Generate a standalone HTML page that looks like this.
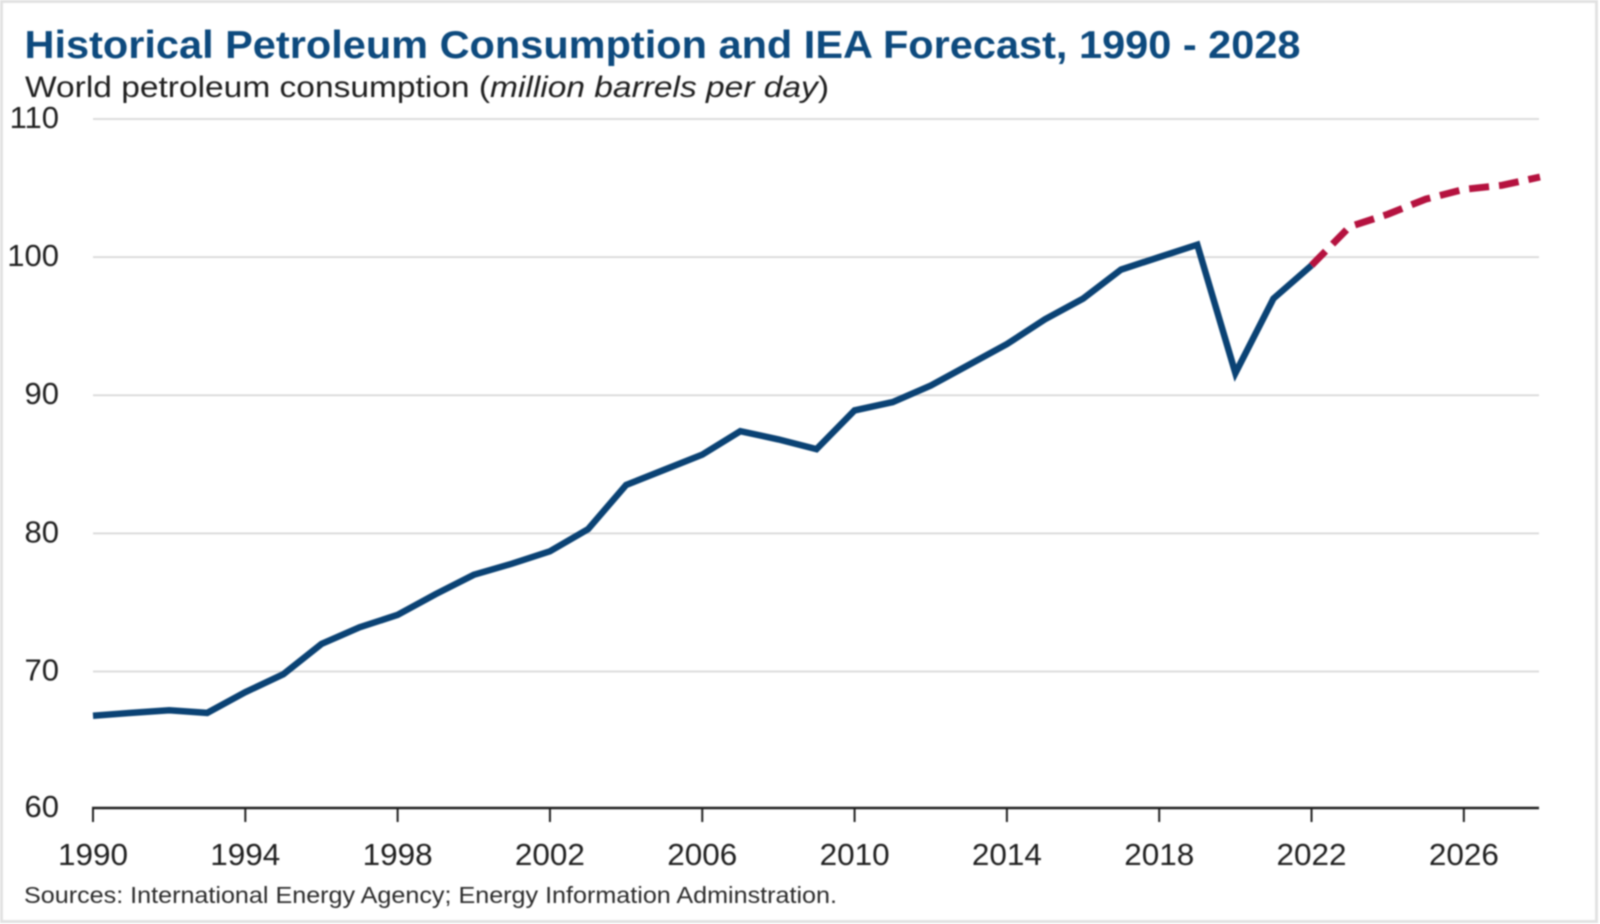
<!DOCTYPE html>
<html lang="en">
<head>
<meta charset="utf-8">
<title>Historical Petroleum Consumption and IEA Forecast, 1990 - 2028</title>
<style>
  html, body { margin: 0; padding: 0; width: 1600px; height: 924px; background: #fff; overflow: hidden; }
  #chart { display: block; filter: blur(0.9px); }
  text { font-family: "Liberation Sans", sans-serif; }
</style>
</head>
<body>
<svg id="chart" xmlns="http://www.w3.org/2000/svg" width="1600" height="924" viewBox="0 0 1600 924">
  <rect x="1.5" y="1.5" width="1595" height="920" fill="#fff" stroke="#e2e2e2" stroke-width="3"/>
  <text x="24.5" y="58" font-size="39" font-weight="bold" fill="#0d4a7e" textLength="1276" lengthAdjust="spacingAndGlyphs">Historical Petroleum Consumption and IEA Forecast, 1990 - 2028</text>
  <text x="25" y="97" font-size="30" fill="#1f1f1f" textLength="804" lengthAdjust="spacingAndGlyphs">World petroleum consumption (<tspan font-style="italic">million barrels per day</tspan>)</text>
  <g id="grid"></g>
  <g id="y-labels"></g>
  <g id="x-axis"></g>
  <g id="series"></g>
  <text x="24" y="903" font-size="23" fill="#2b2b2b" textLength="813" lengthAdjust="spacingAndGlyphs">Sources: International Energy Agency; Energy Information Adminstration.</text>
</svg>
<script>
const historyYears = [1990,1991,1992,1993,1994,1995,1996,1997,1998,1999,2000,2001,2002,2003,2004,2005,2006,2007,2008,2009,2010,2011,2012,2013,2014,2015,2016,2017,2018,2019,2020,2021,2022];
const historyValues = [66.8,67.0,67.2,67.0,68.5,69.8,72.0,73.2,74.1,75.6,77.0,77.8,78.7,80.3,83.5,84.6,85.7,87.4,86.8,86.1,88.9,89.5,90.7,92.2,93.7,95.5,97.0,99.1,100.0,100.9,91.6,97.0,99.4];
const forecastYears = [2022,2023,2024,2025,2026,2027,2028];
const forecastValues = [99.4,102.2,103.1,104.2,104.9,105.2,105.8];
const yTicks = [60,70,80,90,100,110];
const xTicks = [1990,1994,1998,2002,2006,2010,2014,2018,2022,2026];

const NS = 'http://www.w3.org/2000/svg';
const xLeft = 93, xRight = 1540, xMin = 1990, xMax = 2028;
const yTop = 119, yBottom = 809.6, yMin = 60, yMax = 110;
const axisY = 808;
const axisEnd = 1539;
function xScale(year) { return xLeft + (year - xMin) / (xMax - xMin) * (xRight - xLeft); }
function yScale(value) { return yBottom - (value - yMin) / (yMax - yMin) * (yBottom - yTop); }
function make(tag, attrs, parent) {
  const el = document.createElementNS(NS, tag);
  for (const key in attrs) el.setAttribute(key, attrs[key]);
  parent.appendChild(el);
  return el;
}
function pathFor(years, values) {
  return years.map((year, i) => (i ? 'L' : 'M') + xScale(year).toFixed(1) + ' ' + yScale(values[i]).toFixed(1)).join(' ');
}

const grid = document.getElementById('grid');
const yLabels = document.getElementById('y-labels');
yTicks.forEach(tick => {
  if (tick !== yMin) {
    const line = make('line', { x1: xLeft, x2: axisEnd, y1: yScale(tick), y2: yScale(tick), stroke: '#d8d8d8', 'stroke-width': 1.8 }, grid);
    
    
  }
  const label = make('text', { x: 59, y: (tick === yMin ? axisY : yScale(tick)) + 9, 'font-size': 31, fill: '#1f1f1f', 'text-anchor': 'end' }, yLabels);
  
  
  label.textContent = tick;
});

const xAxis = document.getElementById('x-axis');
const axisLine = make('line', { x1: xLeft - 1, x2: axisEnd, y1: axisY, y2: axisY, stroke: '#1f1f1f', 'stroke-width': 2.6 }, xAxis);


xTicks.forEach(year => {
  const tick = make('line', { x1: xScale(year), x2: xScale(year), y1: axisY, y2: axisY + 14, stroke: '#1f1f1f', 'stroke-width': 2 }, xAxis);
  
  
  const label = make('text', { x: xScale(year), y: 865, 'font-size': 31, fill: '#1f1f1f', 'text-anchor': 'middle', textLength: 70, lengthAdjust: 'spacingAndGlyphs' }, xAxis);
  
  
  label.textContent = year;
});

const series = document.getElementById('series');
const forecastLine = make('path', { d: pathFor(forecastYears, forecastValues), fill: 'none', stroke: '#b5123f', 'stroke-width': 7, 'stroke-dasharray': '20 10' }, series);


const historyLine = make('path', { d: pathFor(historyYears, historyValues), fill: 'none', stroke: '#0a4274', 'stroke-width': 6.5, 'stroke-linejoin': 'miter' }, series);


</script>
</body>
</html>
